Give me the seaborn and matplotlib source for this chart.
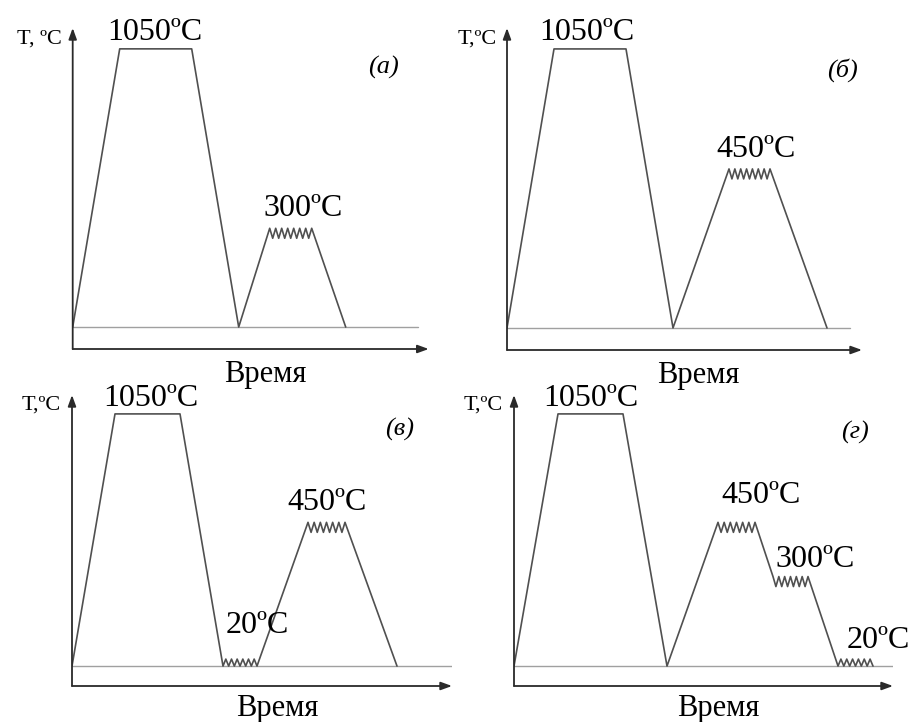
import numpy as np
import pandas as pd
import matplotlib
matplotlib.use("Agg")
import matplotlib.pyplot as plt
import seaborn as sns

# ---- heat-treatment schedules (time in arbitrary units, temperature in °C) ----
panel_names = ["(а)", "(б)", "(в)", "(г)"]

times_a = [0, 4.7, 11.9, 16.6, 19.7, 23.9, 27.3]
temps_a = [20, 1050, 1050, 20, 300, 300, 20]

times_b = [0, 4.7, 11.9, 16.6, 22.2, 26.3, 32.0]
temps_b = [20, 1050, 1050, 20, 450, 450, 20]

times_c = [0, 4.3, 10.8, 15.1, 18.5, 23.6, 27.3, 32.5]
temps_c = [20, 1050, 1050, 20, 20, 450, 450, 20]

times_d = [0, 4.4, 10.9, 15.3, 20.4, 24.1, 25.9, 29.4, 32.4, 35.9]
temps_d = [20, 1050, 1050, 20, 450, 450, 300, 300, 20, 20]

# time-axis lengths of each panel
time_axis_len = [35.6, 35.5, 38.0, 37.9]
baseline_end = [34.5, 34.3, 38.0, 37.9]

# schematic (non-proportional) temperature axis
temp_knots = [20, 300, 450, 1050]
level_knots = [0.0, 0.355, 0.57, 1.0]

y_label_text = ["T, ºC", "T,ºC", "T,ºC", "T,ºC"]
x_label_text = "Время"

# ---- layout ----
W, H = 913, 722
axes_px = [  # left, top, width, height in pixels
    (72.7, 28, 356, 321),
    (507, 28, 355, 322),
    (72, 395, 380, 291),
    (514, 395, 379, 291),
]
panel_label_pos = [(0.872, 0.878), (0.946, 0.87), (0.863, 0.88), (0.90, 0.873)]
# label offsets (px) for each hold: dx, gap above the hold line
hold_label_offsets = [
    [(-1, 9), (12, 12)],
    [(-3, 9), (7, 12)],
    [(3, 8), (17, 33), (1, 12)],
    [(0, 8), (25, 19), (25, 10), (23, 18)],
]

schedules = [(times_a, temps_a), (times_b, temps_b), (times_c, temps_c), (times_d, temps_d)]

sns.set_theme(style="white")
plt.rcParams["font.family"] = ["Liberation Serif", "DejaVu Serif"]

TRACE = "#505050"
BASE = "#a0a0a0"
AXIS = "#2a2a2a"
YMIN, YMAX = -0.079, 1.075

fig = plt.figure(figsize=(W / 100, H / 100), dpi=100)
fig.patch.set_facecolor("white")


def level(t):
    return np.interp(t, temp_knots, level_knots)


for i, (times, temps) in enumerate(schedules):
    lx, ty, w, h = axes_px[i]
    ax = fig.add_axes([lx / W, 1 - (ty + h) / H, w / W, h / H])
    ax.set_xlim(0, time_axis_len[i])
    ax.set_ylim(YMIN, YMAX)
    ax.set_facecolor("none")
    for s in ax.spines.values():
        s.set_visible(False)
    ax.set_xticks([])
    ax.set_yticks([])

    # axes with arrows
    ax.annotate("", xy=(1.0, 0), xytext=(0, 0), xycoords="axes fraction",
                arrowprops=dict(arrowstyle="-|>,head_length=0.55,head_width=0.2",
                                color=AXIS, lw=1.3, shrinkA=0, shrinkB=0))
    ax.annotate("", xy=(0, 1.0), xytext=(0, 0), xycoords="axes fraction",
                arrowprops=dict(arrowstyle="-|>,head_length=0.55,head_width=0.2",
                                color=AXIS, lw=1.3, shrinkA=0, shrinkB=0))

    # room-temperature baseline
    sns.lineplot(x=[0, baseline_end[i]], y=[level(20), level(20)], ax=ax,
                 color=BASE, lw=1.0, sort=False, estimator=None)

    lv = level(np.array(temps, dtype=float))
    amp_units = (YMAX - YMIN) / h  # one pixel in level units
    xs, ys = [times[0]], [lv[0]]
    holds = []
    for k in range(len(times) - 1):
        t0, t1 = times[k], times[k + 1]
        if temps[k] == temps[k + 1]:
            holds.append((t0, t1, temps[k], lv[k]))
        if temps[k] == temps[k + 1] and temps[k] != 1050:
            # isothermal hold drawn as a wavy segment
            amp = (10 if lv[k] > 0 else -7) * amp_units
            n = max(4, int(round((t1 - t0) * 10 / 6.0)))
            zx = np.linspace(t0, t1, 2 * n + 1)
            zy = np.where(np.arange(2 * n + 1) % 2 == 1, lv[k] - amp, lv[k])
            xs.extend(zx[1:])
            ys.extend(zy[1:])
        else:
            xs.append(t1)
            ys.append(lv[k + 1])
    df = pd.DataFrame({"t": xs, "lvl": ys})
    sns.lineplot(data=df, x="t", y="lvl", ax=ax, color=TRACE, lw=1.2,
                 sort=False, estimator=None)
    ax.set_xlabel("")
    ax.set_ylabel("")

    # hold temperature labels
    for (t0, t1, T, L), (dx, dy) in zip(holds, hold_label_offsets[i]):
        ax.annotate(f"{T}ºC", xy=((t0 + t1) / 2, L), xytext=(dx, dy),
                    textcoords="offset pixels", ha="center", va="baseline",
                    fontsize=23, color="black")

    # axis captions
    ax.text(-0.03, 0.965, y_label_text[i], transform=ax.transAxes,
            ha="right", va="center", fontsize=16, color="black")
    ax.text(0.54, -0.104, x_label_text, transform=ax.transAxes,
            ha="center", va="baseline", fontsize=22, color="black")
    px, py = panel_label_pos[i]
    ax.text(px, py, panel_names[i], transform=ax.transAxes, ha="center",
            va="center", fontsize=19, style="italic", color="black")

fig.savefig("out.png", dpi=100, facecolor="white")
